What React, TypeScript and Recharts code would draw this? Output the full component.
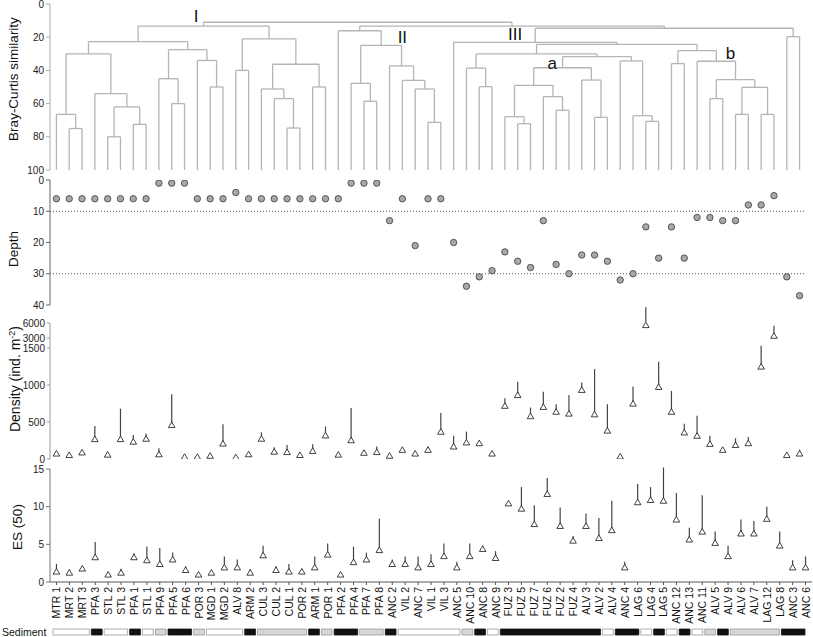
import React from 'react';
import {
  ComposedChart,
  ReferenceArea,
  ReferenceDot,
  ReferenceLine,
  Scatter,
  XAxis,
  YAxis,
} from 'recharts';

const FONT = "'Liberation Sans', Arial, Helvetica, sans-serif";

// sample order as it comes out of the cluster analysis
const sites = [
  'MTR 1', 'MRT 2', 'MRT 3', 'PFA 3', 'STL 2', 'STL 3', 'PFA 1', 'STL 1', 'PFA 9', 'PFA 5',
  'PFA 6', 'POR 3', 'MGD 1', 'MGD 2', 'ALV 8', 'ARM 2', 'CUL 3', 'CUL 2', 'CUL 1', 'POR 2',
  'ARM 1', 'POR 1', 'PFA 2', 'PFA 4', 'PFA 7', 'PFA 8', 'ANC 2', 'VIL 2', 'ANC 7', 'VIL 1',
  'VIL 3', 'ANC 5', 'ANC 10', 'ANC 8', 'ANC 9', 'FUZ 3', 'FUZ 5', 'FUZ 7', 'FUZ 6', 'FUZ 2',
  'FUZ 4', 'ALV 3', 'ALV 2', 'ALV 4', 'ANC 4', 'LAG 6', 'LAG 4', 'LAG 5', 'ANC 12', 'ANC 13',
  'ANC 11', 'ALV 5', 'ALV 9', 'ALV 6', 'ALV 7', 'LAG 12', 'LAG 8', 'ANC 3', 'ANC 6',
];

const depth = [
  6, 6, 6, 6, 6, 6, 6, 6, 1, 1, 1, 6, 6, 6, 4, 6, 6, 6, 6, 6, 6, 6, 6, 1, 1, 1, 13, 6, 21, 6,
  6, 20, 34, 31, 29, 23, 26, 28, 13, 27, 30, 24, 24, 26, 32, 30, 15, 25, 15, 25, 12, 12, 13, 13,
  8, 8, 5, 31, 37,
];

const density = [
  75, 55, 90, 270, 60, 270, 235, 275, 65, 460, 30, 30, 45, 210, 25, 65, 275, 100, 95, 55,
  110, 320, 60, 255, 85, 95, 45, 125, 75, 125, 370, 170, 225, 215, 75, 720, 865, 580, 705, 640,
  615, 935, 605, 385, 35, 750, 5600, 975, 640, 360, 315, 205, 125, 190, 215, 1250, 3460, 55, 75,
];

// upper end of the density bars
const densityTop = [
  75, 55, 100, 445, 60, 680, 325, 340, 145, 875, 30, 30, 45, 470, 25, 65, 360, 160, 190, 55,
  200, 440, 60, 690, 85, 170, 45, 125, 75, 165, 620, 315, 370, 240, 75, 820, 1045, 695, 910, 740,
  865, 1035, 1215, 740, 35, 980, 9200, 1315, 920, 475, 585, 315, 125, 280, 297, 1845, 5450, 55, 125,
];

const es50 = [
  1.4, 1.25, 1.8, 3.3, 1.0, 1.25, 3.3, 2.9, 2.4, 3.0, 1.6, 1.0, 1.25, 1.95, 1.95, 1.25, 3.55, 1.6,
  1.4, 1.4, 1.95, 3.65, 1.0, 2.65, 3.0, 4.25, 2.4, 2.4, 1.95, 2.4, 3.45, 1.95, 3.45, 4.4, 3.2,
  10.45, 9.75, 7.7, 11.7, 7.45, 5.5, 7.45, 5.85, 6.9, 1.95, 10.6, 10.9, 10.8, 8.3, 5.65, 6.7, 5.2,
  3.45, 6.45, 6.45, 8.4, 4.85, 1.95, 1.95,
];

const esTop = [
  2.4, 1.7, 1.8, 5.3, 1.0, 1.75, 3.8, 4.7, 4.5, 3.9, 2.1, 1.0, 1.6, 3.4, 3.0, 1.7, 4.8, 2.1, 2.4,
  1.75, 3.4, 5.1, 1.0, 4.7, 3.9, 8.4, 3.0, 3.4, 3.4, 3.7, 5.1, 2.7, 5.1, 4.85, 4.1, 10.45, 12.6,
  10.2, 13.8, 9.9, 6.1, 9.1, 8.5, 10.8, 2.7, 13.0, 12.6, 15.2, 11.8, 7.2, 11.5, 6.7, 4.8, 8.3, 8.1,
  10.0, 6.7, 2.9, 3.4,
];

// W = white, G = grey, B = black
const sediment = 'WWWBWWBWGBBGWWWBGGGGBGBBGGBWWWWWGBWBBBBBBBBWBBWBWBWGBGGGGBB'.split('');
const sedimentFill: Record<string, string> = { W: '#ffffff', G: '#d6d6d6', B: '#111111' };

// cluster merges: [id, left, right, similarity]; numbers are leaves, strings earlier merges
type Child = number | string;
const merges: [string, Child, Child, number][] = [
  ['m1', 1, 2, 75], ['m2', 0, 'm1', 66.5], ['m3', 4, 5, 80], ['m4', 6, 7, 72.5],
  ['m5', 'm3', 'm4', 62], ['m6', 3, 'm5', 54], ['m7', 'm2', 'm6', 30], ['m8', 9, 10, 60],
  ['m9', 8, 'm8', 45], ['m10', 12, 13, 50], ['m11', 11, 'm10', 34], ['m12', 'm9', 'm11', 27.5],
  ['m13', 'm7', 'm12', 22.7], ['m14', 14, 15, 40], ['m15', 18, 19, 74.7], ['m16', 17, 'm15', 57],
  ['m17', 16, 'm16', 51.2], ['m18', 20, 21, 50], ['m19', 'm17', 'm18', 36.3],
  ['m20', 'm14', 'm19', 21], ['I', 'm13', 'm20', 13.3],
  ['n1', 24, 25, 58.6], ['n2', 23, 'n1', 47.8], ['n3', 29, 30, 71.3], ['n4', 28, 'n3', 51.2],
  ['n5', 27, 'n4', 46], ['n6', 26, 'n5', 37.3], ['n7', 'n2', 'n6', 24.9], ['II', 22, 'n7', 16.1],
  ['p1', 33, 34, 49.8], ['p2', 32, 'p1', 38.6], ['p3', 36, 37, 72.1], ['p4', 35, 'p3', 67.9],
  ['p5', 39, 40, 64], ['p6', 38, 'p5', 55.8], ['p7', 'p4', 'p6', 49], ['p8', 42, 43, 68.3],
  ['p9', 41, 'p8', 45.8], ['pa', 'p7', 'p9', 38.4], ['p10', 46, 47, 70.7], ['p11', 45, 'p10', 67.3],
  ['p12', 44, 'p11', 34.3], ['p13', 'pa', 'p12', 31.7], ['p14', 'p2', 'p13', 30.1],
  ['p15', 48, 49, 35.9], ['p16', 51, 52, 57], ['p17', 53, 54, 66.5], ['p18', 55, 56, 66.5],
  ['p19', 'p17', 'p18', 50.2], ['p20', 'p16', 'p19', 45.6], ['p21', 50, 'p20', 34.5],
  ['pb', 'p15', 'p21', 28.1], ['p22', 'p14', 'pb', 24.3], ['III', 31, 'p22', 23.1],
  ['q', 57, 58, 19.7], ['r1', 'III', 'q', 14.6], ['r2', 'II', 'r1', 13.3], ['root', 'I', 'r2', 11],
];

const groupLabels = [
  { text: 'I', x: 10.9, y: 7.0 },
  { text: 'II', x: 27.0, y: 20.0 },
  { text: 'III', x: 35.8, y: 18.0 },
  { text: 'a', x: 38.7, y: 35.3 },
  { text: 'b', x: 52.6, y: 29.5 },
];

const similarityTicks = [0, 20, 40, 60, 80, 100];
const depthTicks = [0, 10, 20, 30, 40];
const depthGuides = [10, 30];
const densityTicks = [0, 500, 1000, 1500, 3000, 6000];
const esTicks = [0, 5, 10, 15];

const leaves = sites.map((_, i) => i);
const X_DOMAIN: [number, number] = [-0.5, 58.5];

// density axis is broken above 1500
function breakScale(v: number): number {
  if (v <= 1500) return v;
  if (v <= 3000) return 1500 + ((v - 1500) * 135) / 1500;
  return 1635 + (v - 3000) * 0.0676;
}
const densityTickPos = densityTicks.map(breakScale);

function dendrogramSegments() {
  const pos: Record<string, { x: number; h: number }> = {};
  const at = (c: Child) => (typeof c === 'number' ? { x: c, h: 100 } : pos[c]);
  const segs: [number, number, number, number][] = [];
  merges.forEach(([id, a, b, s]) => {
    const A = at(a);
    const B = at(b);
    segs.push([A.x, A.h, A.x, s], [B.x, B.h, B.x, s], [A.x, s, B.x, s]);
    pos[id] = { x: (A.x + B.x) / 2, h: s };
  });
  return segs;
}

const sedimentRuns = sediment.reduce<{ code: string; start: number; end: number }[]>((acc, c, i) => {
  const last = acc[acc.length - 1];
  if (last && last.code === c) last.end = i;
  else acc.push({ code: c, start: i, end: i });
  return acc;
}, []);

const tickStyle = { fontSize: 10, fill: '#222', fontFamily: FONT };

const Triangle = (p: any) => {
  const { cx, cy } = p;
  if (cx == null || cy == null) return null;
  return (
    <path
      d={`M${cx},${cy - 3}L${cx + 3.3},${cy + 2.6}L${cx - 3.3},${cy + 2.6}Z`}
      fill="#fff"
      stroke="#222"
      strokeWidth={0.85}
    />
  );
};

const Circle = (p: any) => {
  const { cx, cy } = p;
  if (cx == null || cy == null) return null;
  return <circle cx={cx} cy={cy} r={3.2} fill="#a8a8a8" stroke="#4a4a4a" strokeWidth={0.9} />;
};

const SiteTick = (p: any) => {
  const { x, y, payload } = p;
  return (
    <text
      x={x}
      y={y}
      transform={`rotate(-90 ${x} ${y})`}
      textAnchor="end"
      dominantBaseline="central"
      fontSize={10.5}
      fill="#111"
      fontFamily={`'Liberation Sans Narrow', 'Arial Narrow', ${FONT}`}
    >
      {sites[payload.value]}
    </text>
  );
};

const AxisTitle = ({ cx, cy, size = 13.5, children }: any) => (
  <div
    style={{
      position: 'absolute',
      left: cx,
      top: cy,
      transform: 'translate(-50%, -50%) rotate(-90deg)',
      whiteSpace: 'nowrap',
      fontSize: size,
      lineHeight: 1,
      color: '#111',
      fontFamily: FONT,
    }}
  >
    {children}
  </div>
);

export default function App() {
  const segs = dendrogramSegments();
  const depthData = leaves.map((i) => ({ x: i, y: depth[i] }));
  const densityData = leaves.map((i) => ({ x: i, y: breakScale(density[i]) }));
  const esData = leaves.map((i) => ({ x: i, y: es50[i] }));
  const place = (top: number): React.CSSProperties => ({ position: 'absolute', left: 0, top });

  return (
    <div style={{ position: 'absolute', left: 0, top: 0, width: 813, height: 637, background: '#fff', fontFamily: FONT }}>
      {/* dendrogram */}
      <div style={place(0)}>
        <ComposedChart width={813} height={175} data={depthData} margin={{ top: 4, right: 7, bottom: 5, left: 0 }}>
          <XAxis dataKey="x" type="number" domain={X_DOMAIN} allowDataOverflow hide />
          <YAxis
            dataKey="y"
            type="number"
            domain={[0, 100]}
            reversed
            allowDataOverflow
            ticks={similarityTicks}
            interval={0}
            width={50}
            tickSize={4}
            axisLine={{ stroke: '#aaa' }}
            tickLine={{ stroke: '#aaa' }}
            tick={tickStyle}
          />
          {segs.map(([x1, y1, x2, y2], k) => (
            <ReferenceLine
              key={`d${k}`}
              segment={[{ x: x1, y: y1 }, { x: x2, y: y2 }]}
              stroke="#b5b5b5"
              strokeWidth={1.3}
              ifOverflow="visible"
            />
          ))}
          {groupLabels.map((g) => (
            <ReferenceDot
              key={g.text}
              x={g.x}
              y={g.y}
              r={1}
              fill="none"
              stroke="none"
              label={{ value: g.text, position: 'center', fontSize: 17, fill: '#111', fontFamily: FONT }}
            />
          ))}
        </ComposedChart>
      </div>

      {/* depth */}
      <div style={place(170)}>
        <ComposedChart width={813} height={140} data={depthData} margin={{ top: 10, right: 7, bottom: 5, left: 0 }}>
          <XAxis
            dataKey="x"
            type="number"
            orientation="top"
            domain={X_DOMAIN}
            allowDataOverflow
            ticks={leaves}
            interval={0}
            height={0}
            tickSize={2}
            tick={false}
            axisLine={{ stroke: '#555' }}
            tickLine={{ stroke: '#555' }}
          />
          <YAxis
            dataKey="y"
            type="number"
            domain={[0, 40]}
            reversed
            allowDataOverflow
            ticks={depthTicks}
            interval={0}
            width={50}
            tickSize={4}
            axisLine={{ stroke: '#666' }}
            tickLine={{ stroke: '#666' }}
            tick={tickStyle}
          />
          {depthGuides.map((d) => (
            <ReferenceLine key={d} y={d} stroke="#555" strokeDasharray="1 2" />
          ))}
          <Scatter dataKey="y" data={depthData} shape={<Circle />} isAnimationActive={false} />
        </ComposedChart>
      </div>

      {/* density */}
      <div style={place(305)}>
        <ComposedChart width={813} height={160} data={densityData} margin={{ top: 18, right: 7, bottom: 6, left: 0 }}>
          <XAxis
            dataKey="x"
            type="number"
            domain={X_DOMAIN}
            allowDataOverflow
            height={0}
            tick={false}
            tickLine={false}
            axisLine={{ stroke: '#ddd' }}
          />
          <YAxis
            dataKey="y"
            type="number"
            domain={[0, breakScale(6000)]}
            allowDataOverflow
            ticks={densityTickPos}
            interval={0}
            width={50}
            tickSize={3}
            axisLine={{ stroke: '#999' }}
            tickLine={{ stroke: '#999' }}
            tick={tickStyle}
            tickFormatter={(t: number) => String(densityTicks[densityTickPos.indexOf(t)] ?? '')}
          />
          {leaves.map((i) =>
            densityTop[i] > density[i] ? (
              <ReferenceLine
                key={`e${i}`}
                segment={[
                  { x: i, y: breakScale(density[i]) },
                  { x: i, y: breakScale(densityTop[i]) },
                ]}
                stroke="#444"
                strokeWidth={1.2}
                ifOverflow="visible"
              />
            ) : null,
          )}
          <Scatter dataKey="y" data={densityData} shape={<Triangle />} isAnimationActive={false} />
        </ComposedChart>
      </div>

      {/* ES(50) */}
      <div style={place(459)}>
        <ComposedChart width={813} height={170} data={esData} margin={{ top: 10, right: 1, bottom: 2, left: 0 }}>
          <XAxis
            dataKey="x"
            type="number"
            domain={X_DOMAIN}
            allowDataOverflow
            ticks={leaves}
            interval={0}
            height={45}
            tickSize={3}
            axisLine={{ stroke: '#555' }}
            tickLine={{ stroke: '#555' }}
            tick={<SiteTick />}
          />
          <YAxis
            dataKey="y"
            type="number"
            domain={[0, 15]}
            allowDataOverflow
            ticks={esTicks}
            interval={0}
            width={50}
            tickSize={4}
            axisLine={{ stroke: '#777' }}
            tickLine={{ stroke: '#777' }}
            tick={tickStyle}
          />
          {leaves.map((i) =>
            esTop[i] > es50[i] ? (
              <ReferenceLine
                key={`s${i}`}
                segment={[
                  { x: i, y: es50[i] },
                  { x: i, y: esTop[i] },
                ]}
                stroke="#444"
                strokeWidth={1.2}
                ifOverflow="visible"
              />
            ) : null,
          )}
          <Scatter dataKey="y" data={esData} shape={<Triangle />} isAnimationActive={false} />
        </ComposedChart>
      </div>

      {/* sediment strip */}
      <div style={place(628)}>
        <ComposedChart width={813} height={8} data={esData} margin={{ top: 1, right: 7, bottom: 1, left: 52 }}>
          <XAxis dataKey="x" type="number" domain={X_DOMAIN} allowDataOverflow hide />
          <YAxis type="number" domain={[0, 1]} allowDataOverflow hide />
          {sedimentRuns.map((r, k) => (
            <ReferenceArea
              key={`r${k}`}
              x1={r.start - 0.42}
              x2={r.end + 0.42}
              y1={0}
              y2={1}
              fill={sedimentFill[r.code]}
              fillOpacity={1}
              stroke={r.code === 'B' ? '#111' : '#999'}
              strokeWidth={0.8}
              ifOverflow="visible"
            />
          ))}
        </ComposedChart>
      </div>

      <AxisTitle cx={14} cy={79}>Bray-Curtis similarity</AxisTitle>
      <AxisTitle cx={14} cy={249}>Depth</AxisTitle>
      <AxisTitle cx={15} cy={379} size={14}>
        Density (ind. m<sup style={{ fontSize: 9 }}>-2</sup>)
      </AxisTitle>
      <AxisTitle cx={18} cy={527}>ES (50)</AxisTitle>
      <div style={{ position: 'absolute', left: 2, top: 626, fontSize: 10.5, color: '#111', fontFamily: FONT }}>
        Sediment
      </div>
    </div>
  );
}
